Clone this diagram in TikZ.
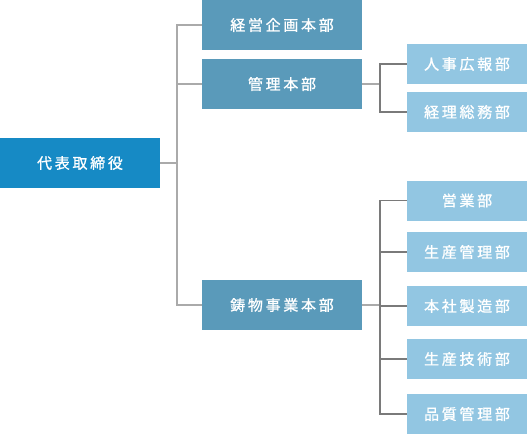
\documentclass[tikz,border=0pt]{standalone}
\usepackage{fontspec}
\newfontfamily\jpfont[LetterSpace=18,FakeBold=1]{Noto Sans CJK JP}
\definecolor{ceoblue}{HTML}{168AC5}
\definecolor{midblue}{HTML}{5A9ABA}
\definecolor{lightblue}{HTML}{92C6E2}
\definecolor{trunkgray}{HTML}{AAAAAA}
\definecolor{branchgray}{HTML}{7A7A7A}
\tikzset{
  box/.style={rectangle, inner sep=0pt, text=white, font=\jpfont\fontsize{15}{17}\selectfont},
  ceobox/.style={box, fill=ceoblue, minimum width=160pt, minimum height=50pt},
  hqbox/.style={box, fill=midblue, minimum width=160pt, minimum height=50pt},
  deptbox/.style={box, fill=lightblue, minimum width=120pt, minimum height=40pt},
  trunk/.style={draw=trunkgray, line width=2pt},
  branch/.style={draw=branchgray, line width=1.2pt},
}
\begin{document}
\begin{tikzpicture}[x=1pt,y=-1pt]
\useasboundingbox (0,0) rectangle (527,434);
\node[ceobox] (ceo) at (80,163) {代表取締役};
\node[hqbox] (keiei) at (282,25) {経営企画本部};
\node[hqbox] (kanri) at (282,84) {管理本部};
\node[hqbox] (imono) at (282,305) {鋳物事業本部};
\node[deptbox] (jinji) at (467,64) {人事広報部};
\node[deptbox] (keiri) at (467,112) {経理総務部};
\node[deptbox] (eigyo) at (467,200.5) {営業部};
\node[deptbox] (seikan) at (467,252) {生産管理部};
\node[deptbox] (honsha) at (467,306) {本社製造部};
\node[deptbox] (gijutsu) at (467,359) {生産技術部};
\node[deptbox] (hinshitsu) at (467,414) {品質管理部};
\coordinate (J1) at (177,163);
\coordinate (J2) at (380,84);
\coordinate (J3) at (380,305);
\draw[trunk] (ceo.east) -- (J1);
\draw[branch, draw=trunkgray] (J1) |- (keiei.west);
\draw[branch, draw=trunkgray] (J1) |- (kanri.west);
\draw[branch, draw=trunkgray] (J1) |- (imono.west);
\draw[trunk] (kanri.east) -- (J2);
\draw[branch] (J2) |- (jinji.west);
\draw[branch] (J2) |- (keiri.west);
\draw[trunk] (imono.east) -- (J3);
\foreach \n in {eigyo,seikan,honsha,gijutsu,hinshitsu}
  \draw[branch] (J3) |- (\n.west);
\end{tikzpicture}
\end{document}
